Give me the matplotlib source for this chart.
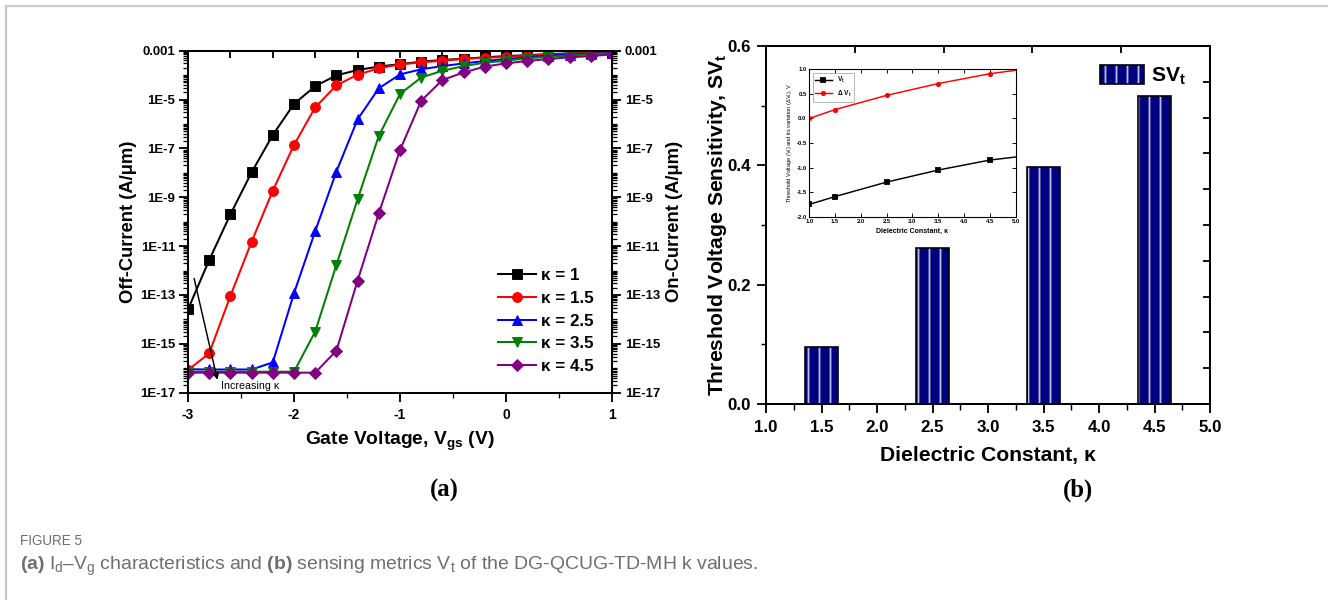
import numpy as np
import matplotlib
matplotlib.use("Agg")
import matplotlib.pyplot as plt
from matplotlib.ticker import FixedLocator, FuncFormatter, LogLocator, NullFormatter, MultipleLocator
from matplotlib.lines import Line2D

# ---------------- data ----------------
vgs = [-3.0, -2.8, -2.6, -2.4, -2.2, -2.0, -1.8, -1.6, -1.4, -1.2, -1.0,
       -0.8, -0.6, -0.4, -0.2, 0.0, 0.2, 0.4, 0.6, 0.8, 1.0]
log_id_k1 = [-13.59, -11.57, -9.70, -7.98, -6.45, -5.18, -4.45, -4.01, -3.79, -3.65, -3.55,
             -3.45, -3.38, -3.33, -3.27, -3.22, -3.18, -3.14, -3.11, -3.10, -3.08]
log_id_k15 = [-16.07, -15.39, -13.04, -10.82, -8.73, -6.86, -5.32, -4.42, -3.98, -3.72, -3.56,
              -3.48, -3.41, -3.34, -3.29, -3.25, -3.20, -3.16, -3.13, -3.10, -3.10]
log_id_k25 = [-16.04, -16.05, -16.05, -16.05, -15.76, -12.93, -10.39, -7.95, -5.81, -4.54, -3.97,
              -3.76, -3.63, -3.52, -3.42, -3.34, -3.27, -3.20, -3.16, -3.12, -3.10]
log_id_k35 = [-16.14, -16.14, -16.14, -16.14, -16.14, -16.14, -14.50, -11.77, -9.08, -6.49, -4.77,
              -4.10, -3.82, -3.63, -3.49, -3.41, -3.31, -3.25, -3.20, -3.15, -3.10]
log_id_k45 = [-16.18, -16.18, -16.18, -16.18, -16.18, -16.18, -16.18, -15.28, -12.41, -9.66, -7.07,
              -5.05, -4.20, -3.89, -3.65, -3.52, -3.42, -3.34, -3.27, -3.22, -3.15]
series_labels = ["\u03ba = 1", "\u03ba = 1.5", "\u03ba = 2.5", "\u03ba = 3.5", "\u03ba = 4.5"]
series_colors = ["black", "#ff0000", "#0000ff", "#008000", "#800080"]
series_markers = ["s", "o", "^", "v", "D"]

kappa_bar = [1.5, 2.5, 3.5, 4.5]
sv_t = [0.096, 0.261, 0.398, 0.517]

kappa_in = [1.0, 1.5, 2.5, 3.5, 4.5, 5.0]
vt_in = [-1.75, -1.59, -1.295, -1.05, -0.847, -0.785]
dvt_in = [0.0, 0.18, 0.47, 0.71, 0.91, 0.98]

# ---------------- style ----------------
plt.rcParams["font.family"] = ["Liberation Sans", "DejaVu Sans"]
plt.rcParams["font.weight"] = "bold"
plt.rcParams["axes.labelweight"] = "bold"
plt.rcParams["mathtext.fontset"] = "custom"
plt.rcParams["mathtext.rm"] = "Liberation Sans:weight=normal"
plt.rcParams["mathtext.bf"] = "Liberation Sans:weight=bold"
plt.rcParams["mathtext.it"] = "Liberation Sans:style=italic:weight=normal"
plt.rcParams["axes.linewidth"] = 1.1
plt.rcParams["hatch.linewidth"] = 1.0

DPI = 132
fig = plt.figure(figsize=(1328 / DPI, 600 / DPI), dpi=DPI)
W, H = 1328.0, 600.0


def frac(l, t, r, b):
    return [l / W, 1 - b / H, (r - l) / W, (b - t) / H]


# outer light frame
fig.add_artist(Line2D([6 / W, 1], [1 - 6 / H, 1 - 6 / H], color="#c8c8c8", lw=1.2))
fig.add_artist(Line2D([6 / W, 6 / W], [0, 1 - 6 / H], color="#c8c8c8", lw=1.2))

# ---------------- panel (a) ----------------
axa = fig.add_axes(frac(188, 50.7, 612, 392.7))
for vals, lab, c, m in zip([log_id_k1, log_id_k15, log_id_k25, log_id_k35, log_id_k45],
                           series_labels, series_colors, series_markers):
    axa.plot(vgs, np.power(10.0, vals), color=c, marker=m, ms=5.4 if m != "D" else 5.0,
             lw=1.1, label=lab, markeredgewidth=0.5)
axa.set_yscale("log")
axa.set_xlim(-3, 1)
axa.set_ylim(1e-17, 1e-3)


def logfmt(v, pos):
    e = int(round(np.log10(v)))
    return "0.001" if e == -3 else "1E%d" % e


major_y = [10.0 ** e for e in range(-17, -2, 2)]
axa.yaxis.set_major_locator(FixedLocator(major_y))
axa.yaxis.set_major_formatter(FuncFormatter(logfmt))
axa.yaxis.set_minor_locator(LogLocator(base=10, subs=np.arange(1, 10), numticks=100))
axa.yaxis.set_minor_formatter(NullFormatter())
axa.xaxis.set_major_locator(MultipleLocator(1))
axa.xaxis.set_minor_locator(MultipleLocator(0.5))
axa.xaxis.set_major_formatter(FuncFormatter(lambda v, p: "%d" % round(v)))
axa.tick_params(axis="both", which="major", direction="out", length=5, width=1.0, labelsize=7.6)
axa.tick_params(axis="both", which="minor", direction="out", length=2.5, width=0.7)
axa.tick_params(axis="y", which="major", length=5, labelsize=7.2, pad=2)
axa.set_xlabel("Gate Voltage, V$_\\mathbf{gs}$ (V)", fontsize=10.5, labelpad=4)
axa.set_ylabel("Off-Current (A/\u03bcm)", fontsize=10.0, labelpad=1.5)

axa_r = axa.twinx()
axa_r.set_yscale("log")
axa_r.set_ylim(1e-17, 1e-3)
axa_r.yaxis.set_major_locator(FixedLocator(major_y))
axa_r.yaxis.set_major_formatter(FuncFormatter(logfmt))
axa_r.yaxis.set_minor_locator(LogLocator(base=10, subs=np.arange(1, 10), numticks=100))
axa_r.yaxis.set_minor_formatter(NullFormatter())
axa_r.tick_params(axis="y", which="major", direction="out", length=5, width=1.0, labelsize=7.2, pad=2)
axa_r.tick_params(axis="y", which="minor", direction="out", length=2.5, width=0.7)
axa_r.set_ylabel("On-Current (A/\u03bcm)", fontsize=10.0, labelpad=3)

topa = axa.secondary_xaxis("top")
topa.set_xticks([-3.0, -2.6, -2.2, -1.8, -1.4, -1.0, -0.6, -0.2, 0.2, 0.6, 1.0])
topa.tick_params(direction="in", length=4, width=1.0, labeltop=False)

leg = axa.legend(loc="lower right", bbox_to_anchor=(0.985, 0.02), frameon=False,
                 prop={"size": 9.3, "weight": "bold"}, handlelength=2.2,
                 labelspacing=0.45, handletextpad=0.3, borderpad=0.2)

axa.annotate("", xy=(-2.715, 10 ** -16.62), xytext=(-2.95, 10 ** -12.18),
             arrowprops=dict(arrowstyle="-|>", color="black", lw=0.8, mutation_scale=7))
axa.text(-2.69, 10 ** -16.72, "Increasing \u03ba", fontsize=5.8, weight="normal",
         ha="left", va="center")

# ---------------- panel (b) ----------------
axb = fig.add_axes(frac(766, 46, 1210, 404))
bars = axb.bar(kappa_bar, sv_t, width=0.3, color="#000080", edgecolor="black",
               linewidth=0.9, hatch="||", label="SV$_\\mathbf{t}$")
for p in bars:
    p._hatch_color = (0.72, 0.75, 0.86, 1.0)
axb.set_xlim(1.0, 5.0)
axb.set_ylim(0.0, 0.6)
axb.xaxis.set_major_locator(MultipleLocator(0.5))
axb.xaxis.set_minor_locator(MultipleLocator(0.25))
axb.yaxis.set_major_locator(MultipleLocator(0.2))
axb.yaxis.set_minor_locator(MultipleLocator(0.1))
axb.xaxis.set_major_formatter(FuncFormatter(lambda v, p: "%.1f" % v))
axb.yaxis.set_major_formatter(FuncFormatter(lambda v, p: "%.1f" % v))
axb.tick_params(axis="both", which="major", direction="out", length=5, width=1.0, labelsize=9.2)
axb.tick_params(axis="both", which="minor", direction="out", length=3, width=0.8)
axb.set_xlabel("Dielectric Constant, \u03ba", fontsize=11.5, labelpad=6)
axb.set_ylabel("Threshold Voltage Sensitivity, SV$_\\mathbf{t}$", fontsize=11.5, labelpad=-1)

topb = axb.secondary_xaxis("top")
topb.set_xticks([1.0, 1.8, 2.6, 3.4, 4.2, 5.0])
topb.tick_params(direction="in", length=4, width=1.0, labeltop=False)
rightb = axb.secondary_yaxis("right")
rightb.set_yticks([0.06 * i for i in range(11)])
rightb.tick_params(direction="in", length=4, width=1.0, labelright=False)

axb.legend(loc="upper right", bbox_to_anchor=(0.985, 0.995), frameon=False,
           prop={"size": 11.5, "weight": "bold"}, handlelength=2.1, handleheight=1.0,
           handletextpad=0.35, borderpad=0.3)

# inset
axi = fig.add_axes(frac(809.3, 69.3, 1015.7, 216.7))
axi.plot(kappa_in, vt_in, color="black", lw=0.8, marker="s", ms=1.8, markevery=[0, 1, 2, 3, 4],
         label="V$_\\mathbf{t}$")
axi.plot(kappa_in, dvt_in, color="#ff0000", lw=0.8, marker="o", ms=1.8, markevery=[0, 1, 2, 3, 4],
         label="\u0394 V$_\\mathbf{t}$")
axi.set_xlim(1.0, 5.0)
axi.set_ylim(-2.0, 1.0)
axi.xaxis.set_major_locator(MultipleLocator(0.5))
axi.yaxis.set_major_locator(MultipleLocator(0.5))
axi.xaxis.set_major_formatter(FuncFormatter(lambda v, p: "%.1f" % v))
axi.yaxis.set_major_formatter(FuncFormatter(lambda v, p: "%.1f" % v))
axi.tick_params(axis="both", which="major", direction="in", length=2, width=0.5,
                labelsize=3.2, pad=1.5, top=True, right=True)
for s in axi.spines.values():
    s.set_linewidth(0.6)
axi.set_xlabel("Dielectric Constant, \u03ba", fontsize=3.8, labelpad=2)
axi.set_ylabel("Threshold Voltage (V$_\\mathrm{t}$) and its variation (\u0394V$_\\mathrm{t}$), V",
               fontsize=3.1, weight="normal", labelpad=1.5)
axi.legend(loc="upper left", frameon=True, fancybox=False, edgecolor="#888888",
           prop={"size": 3.6, "weight": "bold"}, handlelength=2.5, borderpad=0.4,
           labelspacing=0.5).get_frame().set_linewidth(0.4)

# ---------------- panel labels & caption ----------------
fig.text(444 / W, 1 - 490 / H, "(a)", fontsize=13.5, weight="bold",
         family=["Liberation Serif"], ha="center", va="center")
fig.text(1078 / W, 1 - 490 / H, "(b)", fontsize=13.5, weight="bold",
         family=["Liberation Serif"], ha="center", va="center")
fig.text(20 / W, 1 - 541 / H, "FIGURE 5", fontsize=7.4, weight="normal",
         color="#6e6e6e", ha="left", va="center")
fig.text(20 / W, 1 - 566 / H,
         "$\\mathbf{(a)}$ I$_\\mathrm{d}$\u2013V$_\\mathrm{g}$ characteristics and $\\mathbf{(b)}$ "
         "sensing metrics V$_\\mathrm{t}$ of the DG-QCUG-TD-MH k values.",
         fontsize=10.6, weight="normal", color="#6e6e6e", ha="left", va="center")

fig.savefig("out.png", dpi=DPI)
